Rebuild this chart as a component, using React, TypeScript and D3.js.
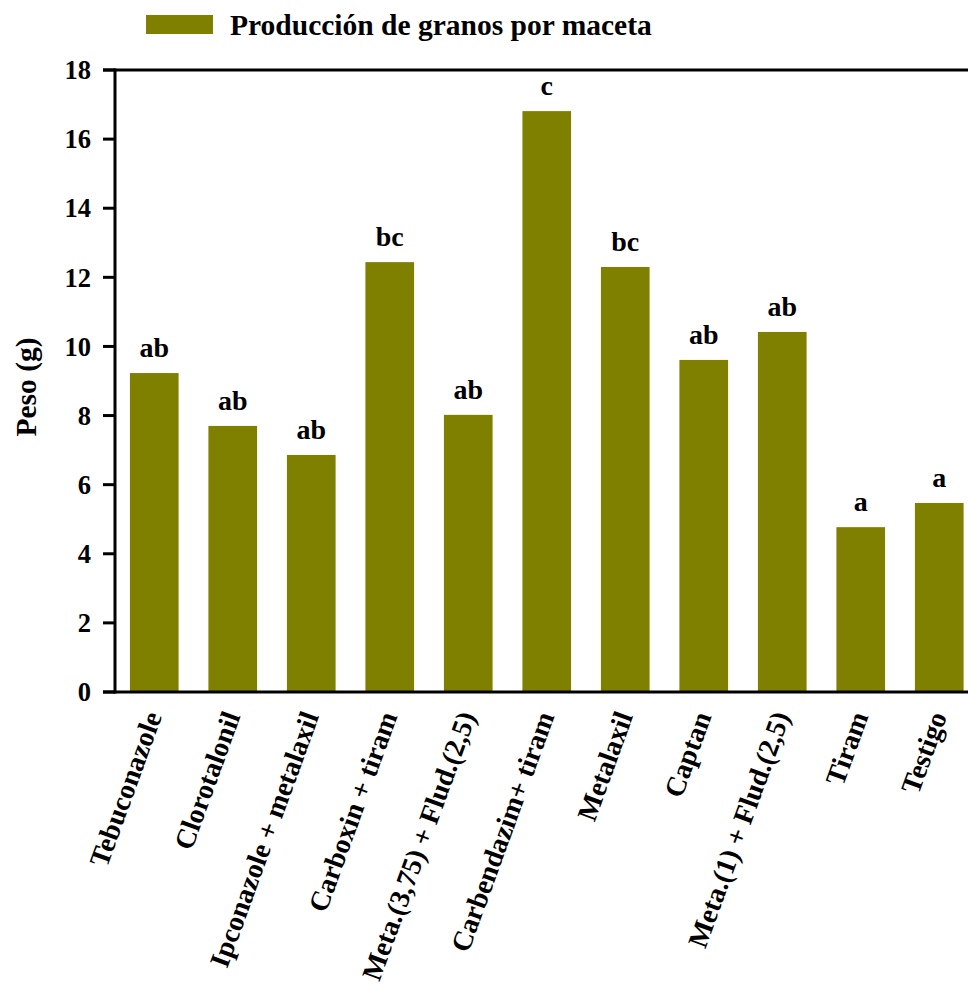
import React from "react";
import * as d3 from "d3";

const categories = [
  "Tebuconazole",
  "Clorotalonil",
  "Ipconazole + metalaxil",
  "Carboxin + tiram",
  "Meta.(3,75) + Flud.(2,5)",
  "Carbendazim+ tiram",
  "Metalaxil",
  "Captan",
  "Meta.(1) + Flud.(2,5)",
  "Tiram",
  "Testigo",
];
const values = [9.23, 7.7, 6.86, 12.44, 8.02, 16.81, 12.3, 9.61, 10.42, 4.77, 5.47];
const letters = ["ab", "ab", "ab", "bc", "ab", "c", "bc", "ab", "ab", "a", "a"];
const yTicks = [0, 2, 4, 6, 8, 10, 12, 14, 16, 18];
const legendLabel = "Producción de granos por maceta";
const yLabel = "Peso (g)";

const W = 968;
const H = 987;
const FONT = "'Liberation Serif', 'Times New Roman', serif";
const COLOR = "#808000";

export default function App() {
  const left = 115;
  const top = 70;
  const bottom = 692;
  const x = d3
    .scaleBand<string>()
    .domain(categories)
    .range([left, left + 11 * 78.5])
    .paddingInner(0.38)
    .paddingOuter(0.19);
  const y = d3.scaleLinear().domain([0, 18]).range([bottom, top]);

  return (
    <svg
      width={W}
      height={H}
      style={{ position: "absolute", left: 0, top: 0, background: "#fff" }}
      fontFamily={FONT}
      fontWeight="bold"
    >
      {/* legend */}
      <rect x={146} y={15} width={67} height={19} fill={COLOR} />
      <text x={230} y={35} fontSize={29.5}>
        {legendLabel}
      </text>

      {/* bars */}
      {categories.map((c, i) => (
        <g key={c}>
          <rect
            x={x(c)!}
            y={y(values[i])}
            width={x.bandwidth()}
            height={bottom - y(values[i])}
            fill={COLOR}
          />
          <text
            x={x(c)! + x.bandwidth() / 2}
            y={y(values[i]) - 16}
            textAnchor="middle"
            fontSize={28}
          >
            {letters[i]}
          </text>
          <text
            transform={`translate(${x(c)! + x.bandwidth() / 2 + 8},${bottom + 24}) rotate(-70)`}
            textAnchor="end"
            fontSize={28}
          >
            {c}
          </text>
        </g>
      ))}

      {/* axes */}
      <line x1={left} x2={left} y1={top - 1.5} y2={bottom + 1.5} stroke="#000" strokeWidth={3} />
      <line x1={103} x2={W} y1={bottom} y2={bottom} stroke="#000" strokeWidth={3} />
      <line x1={103} x2={W} y1={top} y2={top} stroke="#000" strokeWidth={3} />
      {yTicks.map((t) => (
        <g key={t}>
          <line x1={103} x2={left} y1={y(t)} y2={y(t)} stroke="#000" strokeWidth={3} />
          <text x={91} y={y(t)} dy="0.35em" textAnchor="end" fontSize={26.5}>
            {t}
          </text>
        </g>
      ))}
      <text
        transform={`translate(36,${(top + bottom) / 2 + 6}) rotate(-90)`}
        textAnchor="middle"
        fontSize={29.5}
      >
        {yLabel}
      </text>
    </svg>
  );
}
